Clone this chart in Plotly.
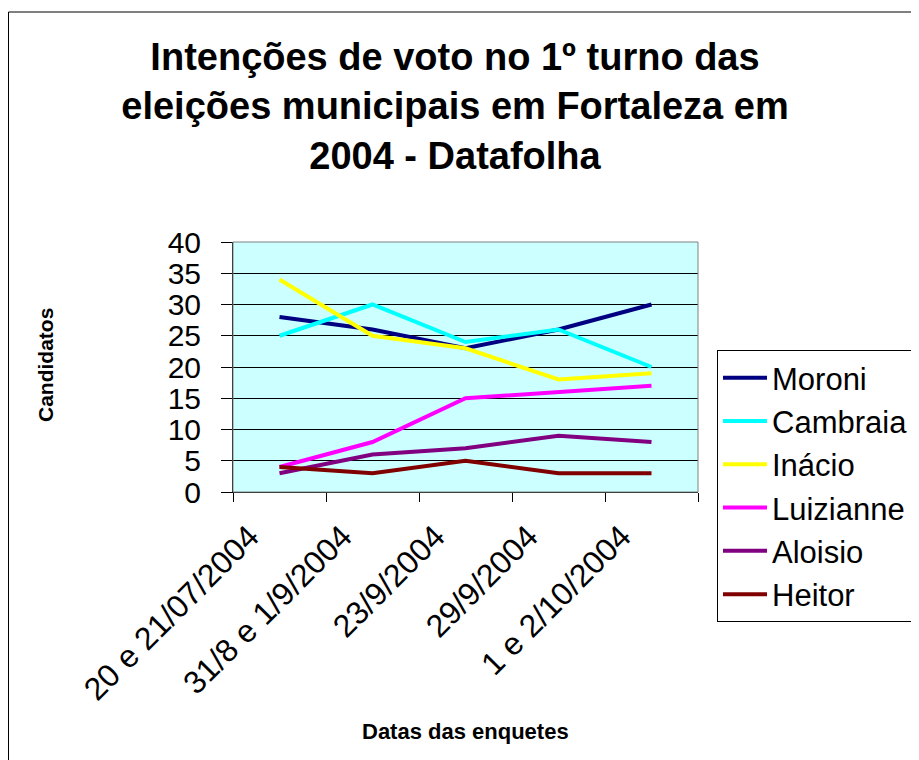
import plotly.graph_objects as go

categories = ["20 e 21/07/2004", "31/8 e 1/9/2004", "23/9/2004", "29/9/2004", "1 e 2/10/2004"]
moroni = [28, 26, 23, 26, 30]
cambraia = [25, 30, 24, 26, 20]
inacio = [34, 25, 23, 18, 19]
luizianne = [4, 8, 15, 16, 17]
aloisio = [3, 6, 7, 9, 8]
heitor = [4, 3, 5, 3, 3]

series = [
    ("Moroni", moroni, "#000080"),
    ("Cambraia", cambraia, "#00FFFF"),
    ("Inácio", inacio, "#FFFF00"),
    ("Luizianne", luizianne, "#FF00FF"),
    ("Aloisio", aloisio, "#800080"),
    ("Heitor", heitor, "#800000"),
]

FONT = "Liberation Sans, Arial, sans-serif"

fig = go.Figure()
for name, vals, color in series:
    fig.add_trace(go.Scatter(
        x=categories, y=vals, mode="lines", name=name,
        line=dict(color=color, width=4), legendgroup=name,
    ))

# page has an 8px body margin; work in screen coordinates and convert
OFF = 8
W, H = 919, 760
L, R, T, B = 233 - OFF, W - (698 - OFF), 242 - OFF, H - (492 - OFF)
pw = W - L - R
ph = H - T - B

def px(x):
    return (x - OFF - L) / pw

def py(y):
    return (H - B - (y - OFF)) / ph

fig.update_layout(
    width=W, height=H,
    margin=dict(l=L, r=R, t=T, b=B),
    paper_bgcolor="white",
    plot_bgcolor="#CCFFFF",
    font=dict(family=FONT, color="black"),
    title=dict(
        text="Intenções de voto no 1º turno das<br>eleições municipais em Fortaleza em<br>2004 - Datafolha",
        font=dict(size=38, family=FONT, color="black", weight="bold"),
        x=(455 - OFF) / W, xanchor="center", xref="container",
        y=1 - (70 - OFF) / H, yanchor="middle", yref="container",
    ),
    xaxis=dict(
        type="category",
        tickangle=-45,
        tickfont=dict(size=32),
        showgrid=False,
        showline=True, linecolor="black", linewidth=1,
        ticks="outside", ticklen=9, tickcolor="black",
        tickson="boundaries",
        ticklabelstandoff=12,
        ticklabelshift=-30,
        range=[-0.5, 4.5],
    ),
    yaxis=dict(
        range=[0, 40], dtick=5,
        tickfont=dict(size=30),
        showgrid=True, gridcolor="black", gridwidth=1,
        showline=True, linecolor="black", linewidth=1,
        ticks="outside", ticklen=11, tickcolor="black",
        ticklabelstandoff=14,
        zeroline=False,
    ),
    legend=dict(
        x=px(717), y=py(350), xanchor="left", yanchor="top",
        font=dict(size=31),
        bgcolor="white", bordercolor="black", borderwidth=1,
        tracegroupgap=0,
        itemwidth=44,
        maxheight=600,
    ),
    showlegend=True,
    annotations=[
        dict(text="<b>Candidatos</b>", x=px(45), y=py(365), xref="paper", yref="paper",
             xanchor="center", yanchor="middle",
             textangle=-90, showarrow=False, font=dict(size=21, family=FONT)),
        dict(text="<b>Datas das enquetes</b>", x=px(465), y=py(731), xref="paper", yref="paper",
             xanchor="center", yanchor="middle",
             showarrow=False, font=dict(size=22, family=FONT)),
    ],
    shapes=[
        dict(type="rect", xref="paper", yref="paper",
             x0=px(8.5), y0=py(800), x1=px(960), y1=py(12),
             line=dict(color="black", width=1), layer="below"),
        dict(type="rect", xref="paper", yref="paper",
             x0=0, y0=0, x1=1, y1=1,
             line=dict(color="#808080", width=1), layer="above"),
    ],
)

fig.write_html("out.html")
